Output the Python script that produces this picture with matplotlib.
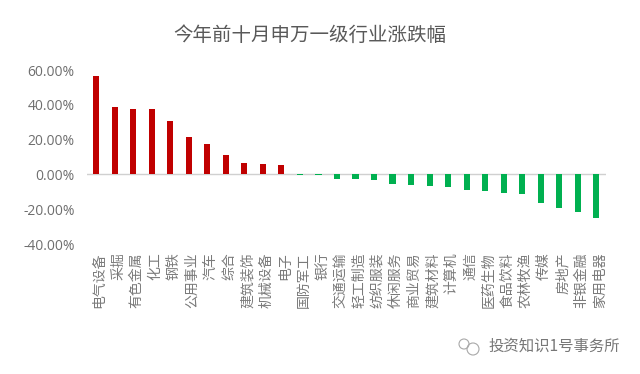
import matplotlib
matplotlib.use('Agg')
import matplotlib.pyplot as plt
from matplotlib.patches import Ellipse

plt.rcParams['font.family'] = ['Noto Sans CJK SC', 'DejaVu Sans']

categories = ['电气设备', '采掘', '有色金属', '化工', '钢铁', '公用事业', '汽车', '综合', '建筑装饰', '机械设备',
              '电子', '国防军工', '银行', '交通运输', '轻工制造', '纺织服装', '休闲服务', '商业贸易', '建筑材料',
              '计算机', '通信', '医药生物', '食品饮料', '农林牧渔', '传媒', '房地产', '非银金融', '家用电器']
values = [56.5, 39.0, 37.8, 37.6, 30.8, 21.5, 17.2, 11.4, 6.5, 6.0,
          5.5, -0.5, -0.5, -2.8, -2.6, -3.3, -5.3, -6.0, -6.8,
          -7.2, -8.9, -9.3, -10.9, -11.2, -16.7, -19.2, -21.5, -24.9]
yticks = [60, 40, 20, 0, -20, -40]
title = '今年前十月申万一级行业涨跌幅'
watermark = '投资知识1号事务所'

W, H = 640, 374
fig = plt.figure(figsize=(W / 100, H / 100), dpi=100, facecolor='white')
ax = fig.add_axes([87 / W, 1 - 244 / H, (605.5 - 87) / W, 174 / H])

colors = ['#C00000' if v >= 0 else '#00B050' for v in values]
x = range(len(values))
ax.bar(x, values, width=0.33, color=colors, zorder=3)
ax.set_xlim(-0.5, len(values) - 0.5)
ax.set_ylim(-40, 60)
ax.axhline(0, color='#D0D0D0', lw=1, zorder=2)

for s in ax.spines.values():
    s.set_visible(False)
ax.set_yticks(yticks)
ax.set_yticklabels([f'{v:.2f}%' for v in yticks], family='Open Sans', fontsize=10, color='#6E6E6E')
ax.tick_params(axis='y', length=0, pad=9)
ax.set_xticks([])

for i, c in zip(x, categories):
    ax.annotate(c, xy=(i, -40), xycoords='data', xytext=(2.5, -6), textcoords='offset points',
                rotation=90, ha='center', va='top', fontsize=10, color='#7A7A7A')

fig.text(310 / W, 1 - 35 / H, title, ha='center', va='center', fontsize=14, color='#595959')
fig.text(488 / W, 1 - 346 / H, watermark, ha='left', va='center', fontsize=11.1, color='#777777')

# small chat-bubble mark beside the watermark
for cx, cy, r in [(464, 344, 5), (473, 349, 6)]:
    fig.add_artist(Ellipse((cx / W, 1 - cy / H), 2 * r / W, 2 * r / H, transform=fig.transFigure,
                           fill=False, ec='#A8A8A8', lw=0.8))

fig.savefig('out.png', dpi=100)
